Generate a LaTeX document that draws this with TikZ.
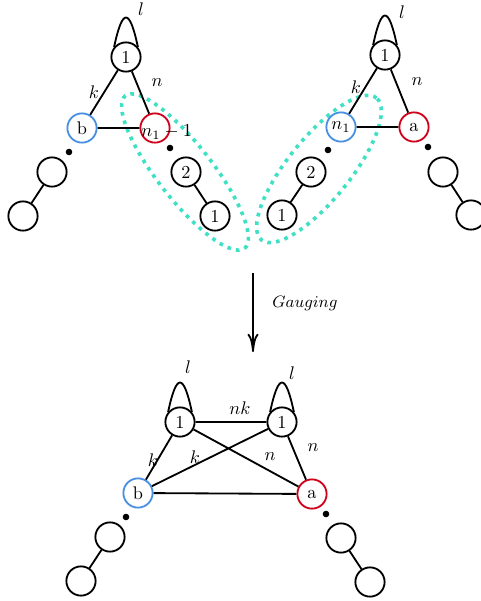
\documentclass[tikz,border=0pt]{standalone}
\usepackage{amsmath}
\usepackage{tikz}
\usetikzlibrary{shapes,calc,positioning,arrows.meta}
\definecolor{bnode}{RGB}{74,144,226}
\definecolor{anode}{RGB}{208,2,27}
\definecolor{gaugecol}{RGB}{64,224,196}
\tikzstyle{line} = [line width=1pt]
\tikzstyle{vertex} = [circle, draw=black, line width=1pt, minimum size=16pt, inner sep=0pt]
\tikzstyle{bvertex} = [vertex, draw=bnode]
\tikzstyle{avertex} = [vertex, draw=anode]
\tikzstyle{smalldot} = [circle, fill=black, minimum size=3.6pt, inner sep=0pt]
\tikzstyle{lbl} = [inner sep=0pt]
\tikzstyle{gauge} = [draw=gaugecol, line width=2pt, dash pattern=on 2pt off 2.8pt]
\begin{document}
\begin{tikzpicture}[x=0.5472pt, y=-0.5472pt]
	\useasboundingbox (0,0) rectangle (481,601);
	% gauged chains
	\draw[gauge] (185,172) ellipse [x radius=53pt, y radius=15pt, rotate=-52];
	\draw[gauge] (319,169) ellipse [x radius=50pt, y radius=17pt, rotate=51];
	% top left quiver
	\node[vertex] (tl1) at (126,57) {1};
	\node[bvertex] (tlb) at (82,128) {b};
	\node[avertex] (tla) at (155,128) {};
	\node[lbl, anchor=west] (tlat) at (141,132) {$n_1-1$};
	\node[smalldot] (tlbd) at (69,152) {};
	\node[smalldot] (tlad) at (170,148) {};
	\node[vertex] (tle1) at (52,172) {};
	\node[vertex] (tle2) at (23,216) {};
	\node[vertex] (tlc2) at (186,172) {2};
	\node[vertex] (tlc1) at (215,216) {1};
	\node[lbl] (tll) at (141,9) {$l$};
	\node[lbl] (tlk) at (94,92) {$k$};
	\node[lbl] (tln) at (157,83) {$n$};
	\draw[line] (tl1) -- (tlb) (tl1) -- (tla) (tlb) -- (tla)
		(tle1) -- (tle2) (tlc2) -- (tlc1);
	\draw[line] (tl1.140) .. controls +(78:22pt) and +(102:22pt) .. (tl1.40);
	% top right quiver
	\node[vertex] (tr1) at (385,55) {1};
	\node[bvertex] (trn) at (341,127) {$n_1$};
	\node[avertex] (tra) at (414,127) {a};
	\node[smalldot] (trnd) at (328,150) {};
	\node[smalldot] (trad) at (428,147) {};
	\node[vertex] (trc2) at (311,172) {2};
	\node[vertex] (trc1) at (282,215) {1};
	\node[vertex] (tre1) at (443,172) {};
	\node[vertex] (tre2) at (471,215) {};
	\node[lbl] (trl) at (402,12) {$l$};
	\node[lbl] (trk) at (356,87) {$k$};
	\node[lbl] (trnl) at (417,82) {$n$};
	\draw[line] (tr1) -- (trn) (tr1) -- (tra) (trn) -- (tra)
		(trc2) -- (trc1) (tre1) -- (tre2);
	\draw[line] (tr1.140) .. controls +(78:22pt) and +(102:22pt) .. (tr1.40);
	% gauging arrow
	\coordinate (gtop) at (253,273);
	\coordinate (gbot) at (253,352);
	\draw[line, -{To[length=10pt, width=6pt]}] (gtop) -- (gbot);
	\node[lbl] (glbl) at (305,303) {\small $Gauging$};
	% gauged quiver
	\node[vertex] (bl1) at (180,422) {1};
	\node[vertex] (br1) at (282,422) {1};
	\node[bvertex] (bb) at (138,493) {b};
	\node[avertex] (ba) at (312,494) {a};
	\node[smalldot] (bbd) at (126,517) {};
	\node[smalldot] (bad) at (326,514) {};
	\node[vertex] (bbe1) at (110,537) {};
	\node[vertex] (bbe2) at (81,581) {};
	\node[vertex] (bae1) at (341,538) {};
	\node[vertex] (bae2) at (370,582) {};
	\node[lbl] (bll) at (188,367) {$l$};
	\node[lbl] (brl) at (292,373) {$l$};
	\node[lbl] (bnk) at (240,408) {$nk$};
	\node[lbl] (bk1) at (153,460) {$k$};
	\node[lbl] (bk2) at (195,457) {$k$};
	\node[lbl] (bn1) at (270,457) {$n$};
	\node[lbl] (bn2) at (313,448) {$n$};
	\draw[line] (bl1) -- (br1) (bl1) -- (bb) (bl1) -- (ba)
		(br1) -- (bb) (br1) -- (ba) (bb) -- (ba)
		(bbe1) -- (bbe2) (bae1) -- (bae2);
	\draw[line] (bl1.140) .. controls +(78:22pt) and +(102:22pt) .. (bl1.40);
	\draw[line] (br1.140) .. controls +(78:22pt) and +(102:22pt) .. (br1.40);
\end{tikzpicture}
\end{document}
